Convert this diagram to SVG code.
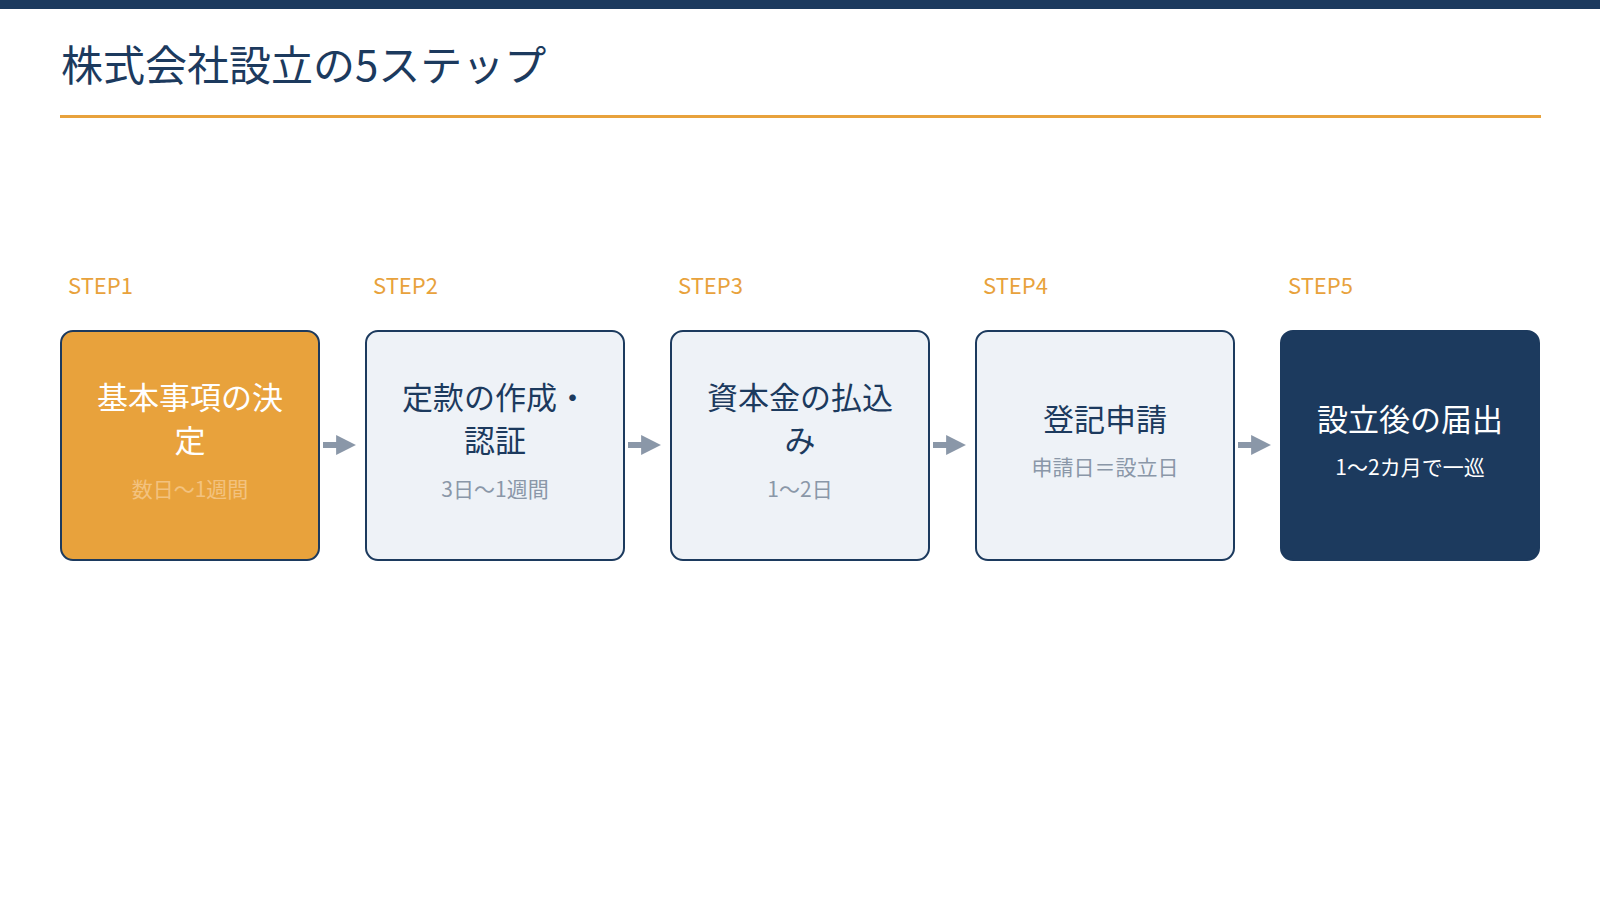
<svg xmlns="http://www.w3.org/2000/svg" width="1600" height="900" viewBox="0 0 1600 900">
<style>
text{font-family:"Noto Sans CJK JP","Noto Sans",sans-serif}
.step{font-size:22px;fill:#e8a23c}
.box{stroke:#1c3a5e;stroke-width:2}
.main{font-size:31px;text-anchor:middle;fill:#1c3a5e}
.sub{font-size:21px;text-anchor:middle;fill:#8a97a8}
.arr{stroke:#8a97a8;stroke-width:6}
</style>
<defs><marker id="ah" viewBox="0 0 10 10" refX="6" refY="5" markerWidth="3.3" markerHeight="4.5" orient="auto" markerUnits="strokeWidth"><path d="M0,0L10,5L0,10z" fill="#8a97a8"/></marker></defs>
<rect x="0" y="0" width="1600" height="9" fill="#1c3a5e"/>
<text x="61" y="81" font-size="42" fill="#1c3a5e">株式会社設立の5ステップ</text>
<rect x="60" y="115" width="1481" height="3" fill="#e8a23c"/>
<g id="n1"><text class="step" x="68" y="294">STEP1</text><rect class="box" x="61" y="331" width="258" height="229" rx="12" fill="#e8a23c"/><text class="main" x="190" y="409" fill="#fff" style="fill:#fff">基本事項の決</text><text class="main" x="190" y="452" style="fill:#fff">定</text><text class="sub" x="190" y="497" style="fill:#f3c27f">数日〜1週間</text></g>
<g id="n2"><text class="step" x="373" y="294">STEP2</text><rect class="box" x="366" y="331" width="258" height="229" rx="12" fill="#eef2f7"/><text class="main" x="495" y="409">定款の作成・</text><text class="main" x="495" y="452">認証</text><text class="sub" x="495" y="497">3日〜1週間</text></g>
<g id="n3"><text class="step" x="678" y="294">STEP3</text><rect class="box" x="671" y="331" width="258" height="229" rx="12" fill="#eef2f7"/><text class="main" x="800" y="409">資本金の払込</text><text class="main" x="800" y="452">み</text><text class="sub" x="800" y="497">1〜2日</text></g>
<g id="n4"><text class="step" x="983" y="294">STEP4</text><rect class="box" x="976" y="331" width="258" height="229" rx="12" fill="#eef2f7"/><text class="main" x="1105" y="431">登記申請</text><text class="sub" x="1105" y="475">申請日＝設立日</text></g>
<g id="n5"><text class="step" x="1288" y="294">STEP5</text><rect class="box" x="1281" y="331" width="258" height="229" rx="12" fill="#1c3a5e"/><text class="main" x="1410" y="431" style="fill:#fff">設立後の届出</text><text class="sub" x="1410" y="475" style="fill:#fff">1〜2カ月で一巡</text></g>
<g id="connectors">
<line class="arr" x1="323" y1="445" x2="348" y2="445" marker-end="url(#ah)"/>
<line class="arr" x1="628" y1="445" x2="653" y2="445" marker-end="url(#ah)"/>
<line class="arr" x1="933" y1="445" x2="958" y2="445" marker-end="url(#ah)"/>
<line class="arr" x1="1238" y1="445" x2="1263" y2="445" marker-end="url(#ah)"/>
</g>
</svg>
